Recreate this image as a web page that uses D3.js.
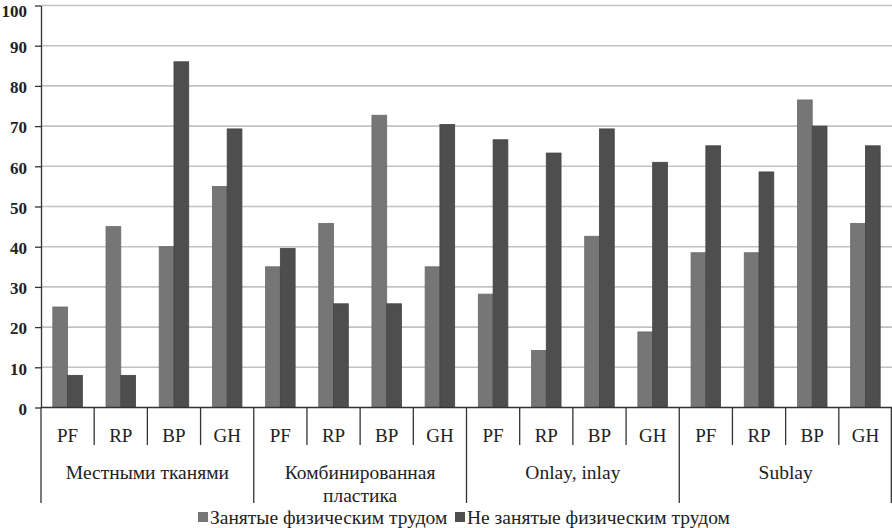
<!DOCTYPE html>
<html><head><meta charset="utf-8">
<script src="https://cdn.jsdelivr.net/npm/d3@7"></script>
<style>body{margin:0;background:#fff}svg{display:block}</style>
</head><body><svg id="c" width="892" height="528"></svg>
<script>
const groups = ["Местными тканями", "Комбинированная пластика", "Onlay, inlay", "Sublay"];
const groupLines = [["Местными тканями"], ["Комбинированная", "пластика"], ["Onlay, inlay"], ["Sublay"]];
const subcats = ["PF", "RP", "BP", "GH"];
const seriesNames = ["Занятые физическим трудом", "Не занятые физическим трудом"];
const physical =    [25, 45, 40, 55,   35, 45.8, 72.7, 35,   28.2, 14.2, 42.6, 18.8,   38.5, 38.5, 76.5, 45.8];
const nonPhysical = [8, 8, 86, 69.3,   39.6, 25.8, 25.8, 70.4,   66.6, 63.3, 69.3, 61,   65.1, 58.6, 70, 65.1];
const yTicks = [0,10,20,30,40,50,60,70,80,90,100];
const colors = ["#767676", "#4e4e4e"];

(function(){
const svg = d3.select("#c");
const mLeft = 41, mRight = 892, mTop = 5.5, mBottom = 407.5;
const font = "Liberation Serif, DejaVu Serif, serif";

const cats = [];
groups.forEach((g, gi) => subcats.forEach((s, si) => cats.push({g: gi, s, key: gi + "-" + s})));

const x = d3.scaleBand().domain(cats.map(d => d.key)).range([mLeft, mRight]).paddingInner(0).paddingOuter(0);
const y = d3.scaleLinear().domain([0, 100]).range([mBottom, mTop]);
const inner = d3.scaleBand().domain([0, 1]).range([0, x.bandwidth()]).paddingInner(0).paddingOuter(0.8);

svg.append("g").selectAll("line").data(yTicks.filter(t => t > 0)).join("line")
  .attr("x1", mLeft).attr("x2", mRight)
  .attr("y1", d => y(d)).attr("y2", d => y(d))
  .attr("stroke", "#c2c2c2").attr("stroke-width", 1.6);

const bars = svg.append("g");
cats.forEach((c, i) => {
  [physical[i], nonPhysical[i]].forEach((v, k) => {
    bars.append("rect")
      .attr("x", x(c.key) + inner(k))
      .attr("y", y(v))
      .attr("width", inner.bandwidth())
      .attr("height", y(0) - y(v))
      .attr("fill", colors[k])
      .attr("stroke", k === 0 ? "#6a6a6a" : "#444")
      .attr("stroke-width", 0.8);
  });
});

const yAxis = d3.axisLeft(y).tickValues(yTicks).tickSize(6).tickSizeOuter(0).tickPadding(8);
const ya = svg.append("g").attr("transform", `translate(${mLeft},0)`).call(yAxis);
ya.select(".domain").attr("stroke", "#333").attr("stroke-width", 1.3);
ya.selectAll(".tick line").attr("stroke", "#333").attr("stroke-width", 1.3);
ya.selectAll("text").attr("font-family", font).attr("font-size", 17).attr("font-weight", "bold").attr("fill", "#222")
  .attr("dy", (d) => d === 100 ? "0.62em" : "0.4em");

svg.append("line").attr("x1", mLeft).attr("x2", mRight).attr("y1", mBottom).attr("y2", mBottom)
  .attr("stroke", "#333").attr("stroke-width", 1.3);
svg.append("line").attr("x1", mLeft).attr("x2", mLeft).attr("y1", mBottom).attr("y2", 503)
  .attr("stroke", "#333").attr("stroke-width", 1.3);

const xa = svg.append("g");
cats.forEach((c, i) => {
  const x0 = x(c.key);
  if (i > 0) {
    const isGroup = i % 4 === 0;
    xa.append("line").attr("x1", x0).attr("x2", x0).attr("y1", mBottom).attr("y2", isGroup ? 503 : 445)
      .attr("stroke", "#333").attr("stroke-width", 1.3);
  }
  xa.append("text").attr("x", x0 + x.bandwidth() / 2).attr("y", 442)
    .attr("text-anchor", "middle").attr("font-family", font).attr("font-size", 19).attr("fill", "#222")
    .text(c.s);
});
svg.append("line").attr("x1", mRight - 0.7).attr("x2", mRight - 0.7).attr("y1", mBottom).attr("y2", 503)
  .attr("stroke", "#333").attr("stroke-width", 1.3);

groupLines.forEach((lines, gi) => {
  const gx0 = x(gi + "-PF"), gx1 = x(gi + "-GH") + x.bandwidth();
  lines.forEach((t, li) => {
    xa.append("text").attr("x", (gx0 + gx1) / 2).attr("y", 478.5 + li * 23)
      .attr("text-anchor", "middle").attr("font-family", font).attr("font-size", 19.5).attr("fill", "#222")
      .text(t);
  });
});

const legend = svg.append("g");
const legX = [198, 455];
seriesNames.forEach((n, k) => {
  legend.append("rect").attr("x", legX[k]).attr("y", 512).attr("width", 10).attr("height", 10).attr("fill", colors[k]);
  legend.append("text").attr("x", legX[k] + 12).attr("y", 523.5)
    .attr("font-family", font).attr("font-size", 19.5).attr("fill", "#222").text(n);
});
})();
</script></body></html>
